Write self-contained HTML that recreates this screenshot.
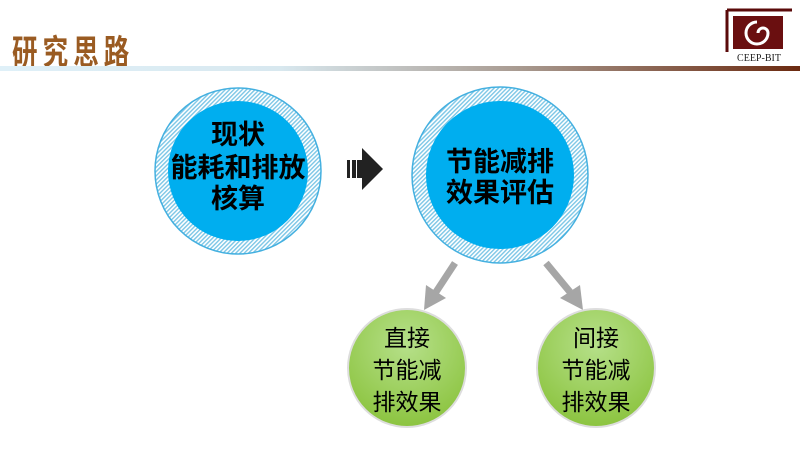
<!DOCTYPE html>
<html><head><meta charset="utf-8"><style>
body{margin:0;width:800px;height:450px;background:#fff;overflow:hidden;position:relative;font-family:"Liberation Sans","Noto Sans CJK SC",sans-serif}
.t{position:absolute;left:12px;top:24px;font-size:30px;color:#9a5b22;font-weight:bold;letter-spacing:6px;transform:scale(0.85,1.15);transform-origin:left top}
.bar{position:absolute;left:0;top:66px;width:800px;height:5px;background:linear-gradient(90deg,#dff0f8,#d8e8ef 35%,#a89a90 65%,#6b2a10)}
</style></head><body>
<div class="t">研究思路</div>
<div class="bar"></div>
<svg width="800" height="450" style="position:absolute;left:0;top:0">
<defs>
<pattern id="h" width="3" height="3" patternUnits="userSpaceOnUse" patternTransform="rotate(45)"><rect width="3" height="3" fill="#fff"/><rect width="1.4" height="3" fill="#7cc6e6"/></pattern>
<radialGradient id="g" cx="50%" cy="30%" r="70%"><stop offset="0" stop-color="#b6e08a"/><stop offset="1" stop-color="#8cc440"/></radialGradient>
</defs>
<path d="M727 10 H792 M727 10 V52" stroke="#5a0a0a" stroke-width="3" fill="none"/>
<rect x="733" y="16" width="50" height="33" fill="#6a0f10"/>
<path d="M757 22 a11 11 0 1 0 11 11 a5 5 0 0 0 -10 0" stroke="#fff" stroke-width="3" fill="none"/>
<text x="759" y="61" font-size="10" text-anchor="middle" font-family="Liberation Serif" fill="#222">CEEP-BIT</text>
<circle cx="238" cy="171" r="83" fill="url(#h)" stroke="#44b0e0" stroke-width="1.5"/>
<circle cx="238" cy="171" r="70" fill="#00aeef"/>
<circle cx="500" cy="175" r="88" fill="url(#h)" stroke="#44b0e0" stroke-width="1.5"/>
<circle cx="500" cy="175" r="74" fill="#00aeef"/>
<g font-weight="bold" font-size="27" text-anchor="middle" fill="#000">
<text x="238" y="144">现状</text><text x="238" y="177">能耗和排放</text><text x="238" y="208">核算</text>
<text x="500" y="171">节能减排</text><text x="500" y="202">效果评估</text>
</g>
<rect x="347" y="160" width="3" height="18" fill="#222"/><rect x="352" y="160" width="4" height="18" fill="#222"/>
<path d="M357 160 H362 V148 L383 169 L362 190 V178 H357Z" fill="#222"/>
<g stroke="#a6a6a6" stroke-width="7" fill="#a6a6a6">
<line x1="455" y1="263" x2="436" y2="292"/><line x1="546" y1="263" x2="570" y2="292"/>
</g>
<path d="M424 310 L426 285 L446 298Z" fill="#a6a6a6"/>
<path d="M583 310 L560 298 L580 285Z" fill="#a6a6a6"/>
<circle cx="407" cy="368" r="59" fill="url(#g)" stroke="#ddd" stroke-width="2"/>
<circle cx="596" cy="368" r="59" fill="url(#g)" stroke="#ddd" stroke-width="2"/>
<g font-size="23" text-anchor="middle" fill="#000">
<text x="407" y="346">直接</text><text x="407" y="378">节能减</text><text x="407" y="410">排效果</text>
<text x="596" y="346">间接</text><text x="596" y="378">节能减</text><text x="596" y="410">排效果</text>
</g>
</svg>
</body></html>
